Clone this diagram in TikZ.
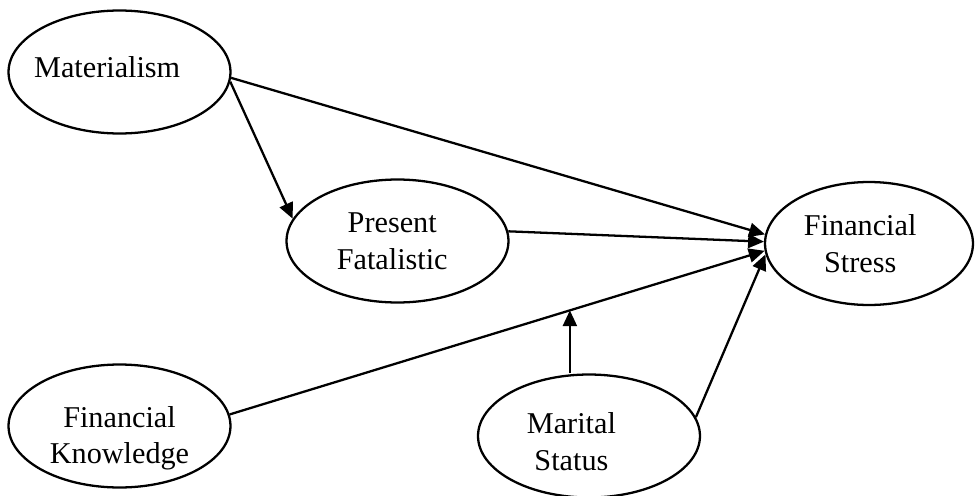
\documentclass[tikz,border=0pt]{standalone}
\usepackage{fontspec}
\setmainfont{Liberation Serif}
\usetikzlibrary{arrows.meta,shapes.geometric}

\begin{document}
\begin{tikzpicture}[x=0.02cm,y=0.02cm,
    font=\fontsize{17.2}{21}\selectfont,
    construct/.style={draw,ellipse,line width=1.3pt,inner sep=0pt,
      minimum width=4.44cm,minimum height=2.46cm},
    caption/.style={align=center,inner sep=0pt},
    link/.style={-{Triangle[length=9pt,width=8pt]},line width=1.3pt}]

  \useasboundingbox (0,0) rectangle (975,495);

  % --- constructs ---
  \node[construct,label={[caption,xshift=-7,yshift=3]center:Materialism}]
       (mat) at (119.5,423) {};
  \node[construct,label={[caption,xshift=-3]center:{Present\\Fatalistic}}]
       (pf) at (397.5,254) {};
  \node[construct,minimum width=4.16cm,
       label={[caption,xshift=-5]center:{Financial\\Stress}}]
       (fs) at (869,251.5) {};
  \node[construct,label={[caption,yshift=-7]center:{Financial\\Knowledge}}]
       (fk) at (119.5,69) {};
  \node[construct,label={[caption,xshift=-10,yshift=-3]center:{Marital\\Status}}]
       (ms) at (589,59) {};

  % --- direct paths ---
  \draw[link] (mat.-3) -- (fs.175);
  \draw[link] (mat.-5) -- (pf.168);
  \draw[link] (pf.5) -- (fs.179);
  \draw[link] (fk.6) -- coordinate[pos=0.636] (mod) (fs.184);
  \draw[link] (ms.10) -- (fs.186);

  % --- moderation ---
  \draw[link] (mod |- ms.north) -- (mod);

\end{tikzpicture}
\end{document}
